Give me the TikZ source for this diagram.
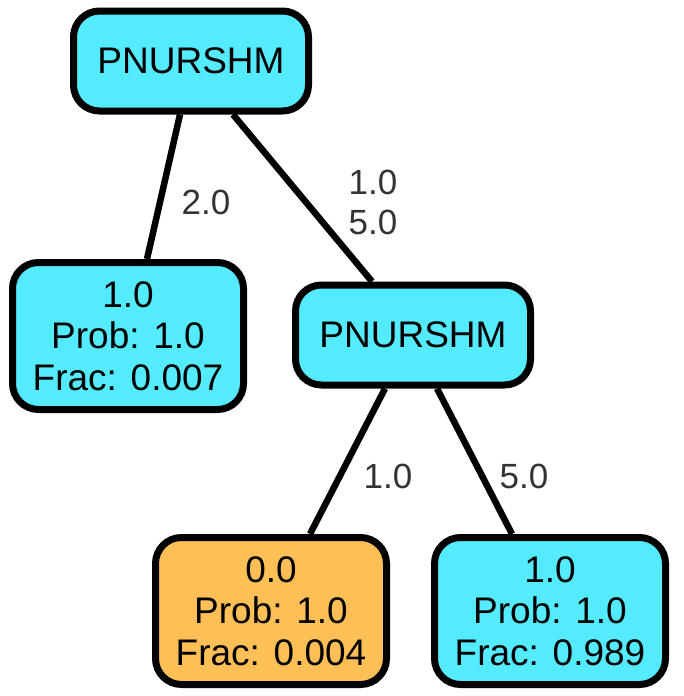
\documentclass[tikz,border=0pt]{standalone}
\usepackage{fontspec}
\setmainfont{Liberation Sans}
\usetikzlibrary{calc}
\definecolor{cyanfill}{HTML}{55EBFF}
\definecolor{orangefill}{HTML}{FEBF57}
\definecolor{labelgray}{HTML}{333333}
\begin{document}
\begin{tikzpicture}[x=1pt,y=-1pt,
  treenode/.style={draw=black, line width=7pt, rounded corners=26pt, align=center,
    font=\fontsize{37}{41.5}\selectfont, inner sep=0pt},
  splitnode/.style={treenode, fill=cyanfill, minimum width=235pt, minimum height=100pt},
  leafnode/.style={treenode, minimum width=231pt, minimum height=147pt},
  edgeline/.style={line width=6.5pt, black},
  edgelabel/.style={text=labelgray, font=\fontsize{35}{40}\selectfont, align=center, inner sep=0pt}]
\useasboundingbox (0,0) rectangle (684,696);
\node[splitnode] (root) at (191,61) {PNURSHM};
\node[leafnode, fill=cyanfill] (leafA) at (128,336) {1.0\\Prob: 1.0\\Frac: 0.007};
\node[splitnode] (mid) at (413,335) {PNURSHM};
\node[leafnode, fill=orangefill] (leafB) at (271,611) {0.0\\Prob: 1.0\\Frac: 0.004};
\node[leafnode, fill=cyanfill] (leafC) at (550,611) {1.0\\Prob: 1.0\\Frac: 0.989};
\draw[edgeline] ([xshift=-11pt]root.south) -- ([xshift=19pt]leafA.north);
\draw[edgeline] ([xshift=42pt]root.south) -- ([xshift=-41pt]mid.north);
\draw[edgeline] ([xshift=-28pt]mid.south) -- ([xshift=39pt]leafB.north);
\draw[edgeline] ([xshift=24pt]mid.south) -- ([xshift=-38pt]leafC.north);
\node[edgelabel] (lab1) at (206,202) {2.0};
\node[edgelabel] (lab2) at (373,202) {1.0\\5.0};
\node[edgelabel] (lab3) at (388,476) {1.0};
\node[edgelabel] (lab4) at (524,476) {5.0};
\end{tikzpicture}
\end{document}
